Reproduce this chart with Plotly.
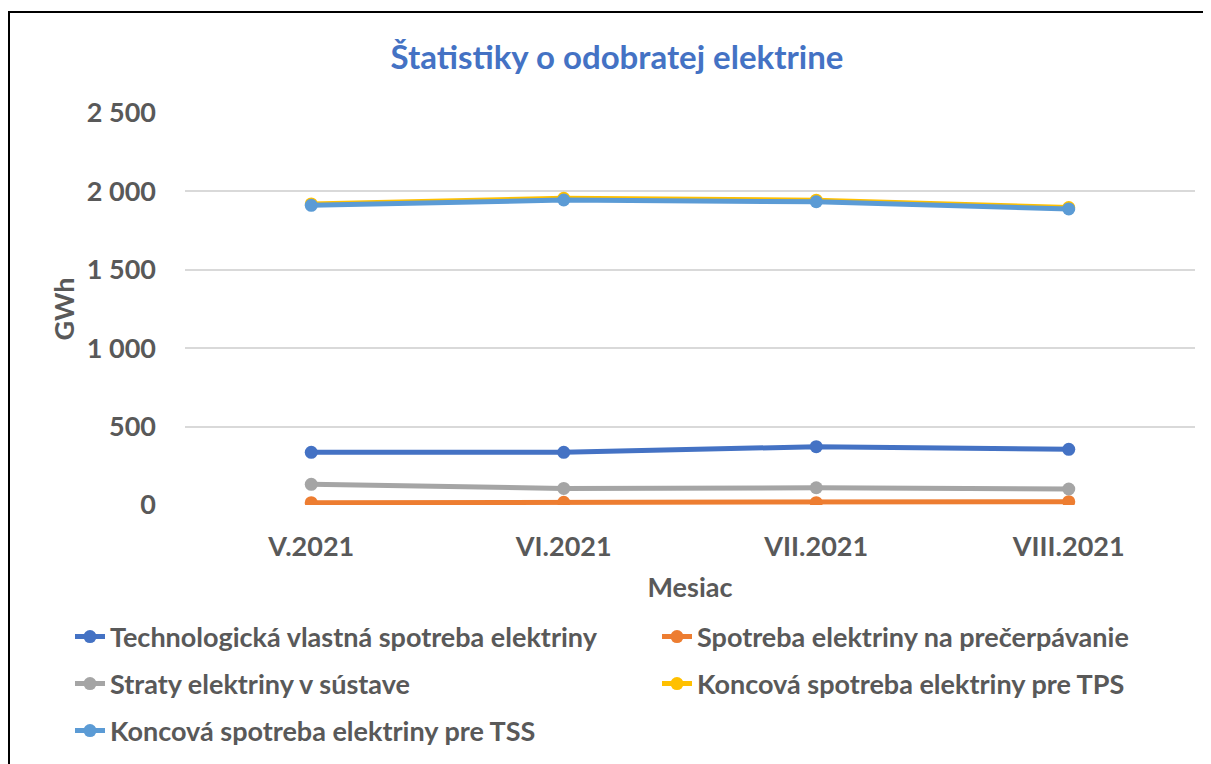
import plotly.graph_objects as go

months = ['V.2021', 'VI.2021', 'VII.2021', 'VIII.2021']

tech_vlastna = [336, 336, 372, 355]
precerpavanie = [15, 17, 15, 21]
straty = [132, 106, 110, 102]
koncova_tps = [1920, 1956, 1944, 1897]
koncova_tss = [1911, 1945, 1934, 1888]

series = [
    ('Technologická vlastná spotreba elektriny', tech_vlastna, '#4472C4', 'legend'),
    ('Spotreba elektriny na prečerpávanie', precerpavanie, '#ED7D31', 'legend'),
    ('Straty elektriny v sústave', straty, '#A5A5A5', 'legend2'),
    ('Koncová spotreba elektriny pre TPS', koncova_tps, '#FFC000', 'legend2'),
    ('Koncová spotreba elektriny pre TSS', koncova_tss, '#5B9BD5', 'legend3'),
]

FONT = 'Lato'
GREY = '#595959'
FS = 27

fig = go.Figure()
for name, vals, color, leg in series:
    fig.add_trace(go.Scatter(
        x=months, y=vals, name=name, mode='lines+markers',
        line=dict(color=color, width=5),
        marker=dict(color=color, size=13),
        legend=leg,
    ))

# page body adds an 8px offset; positions below are screenshot pixels
OFF = 8
W, H = 1211, 764
L, R, T, B = 185 - OFF, W - (1195 - OFF), 113 - OFF, H - (505 - OFF)
pw, ph = W - L - R, H - T - B


def px_x(x):
    return (x - OFF - L) / pw


def px_y(y):
    return (H - B - (y - OFF)) / ph


leg_common = dict(orientation='h', xanchor='left', yanchor='middle',
                  font=dict(family=FONT, size=FS, color=GREY, weight='bold'),
                  bgcolor='rgba(0,0,0,0)', itemwidth=30,
                  entrywidth=542, entrywidthmode='pixels')

fig.update_layout(
    width=W, height=H,
    margin=dict(l=L, r=R, t=T, b=B, autoexpand=False),
    paper_bgcolor='white', plot_bgcolor='white',
    font=dict(family=FONT, color=GREY),
    title=dict(text='Štatistiky o odobratej elektrine', x=(617 - OFF) / W, xanchor='center',
               xref='container', y=1 - (57 - OFF) / H, yanchor='middle',
               font=dict(family=FONT, size=33, color='#4472C4', weight='bold')),
    xaxis=dict(range=[-0.5, 3.5],
               showgrid=False, showline=False, zeroline=False, ticks='',
               ticklabelstandoff=23,
               tickfont=dict(family=FONT, size=FS, color=GREY, weight='bold'),
               title=dict(text='Mesiac', standoff=17,
                          font=dict(family=FONT, size=FS, color=GREY, weight='bold'))),
    yaxis=dict(range=[0, 2500], tickvals=[0, 500, 1000, 1500, 2000, 2500],
               ticktext=['0', '500', '1 000', '1 500', '2 000', '2 500'],
               gridcolor='#D9D9D9', gridwidth=2, zeroline=False, showline=False,
               ticklabelstandoff=28,
               tickfont=dict(family=FONT, size=FS, color=GREY, weight='bold'),
               title=dict(text='GWh', standoff=4,
                          font=dict(family=FONT, size=FS, color=GREY, weight='bold'))),
    legend=dict(x=px_x(70), y=px_y(637), **leg_common),
    legend2=dict(x=px_x(70), y=px_y(684), **leg_common),
    legend3=dict(x=px_x(70), y=px_y(731), **leg_common),
    shapes=[dict(type='rect', xref='paper', yref='paper',
                 x0=px_x(9), x1=px_x(1240), y0=px_y(12), y1=px_y(800),
                 line=dict(color='black', width=2), fillcolor='rgba(0,0,0,0)', layer='below')],
    showlegend=True,
)

fig.write_html('out.html')
